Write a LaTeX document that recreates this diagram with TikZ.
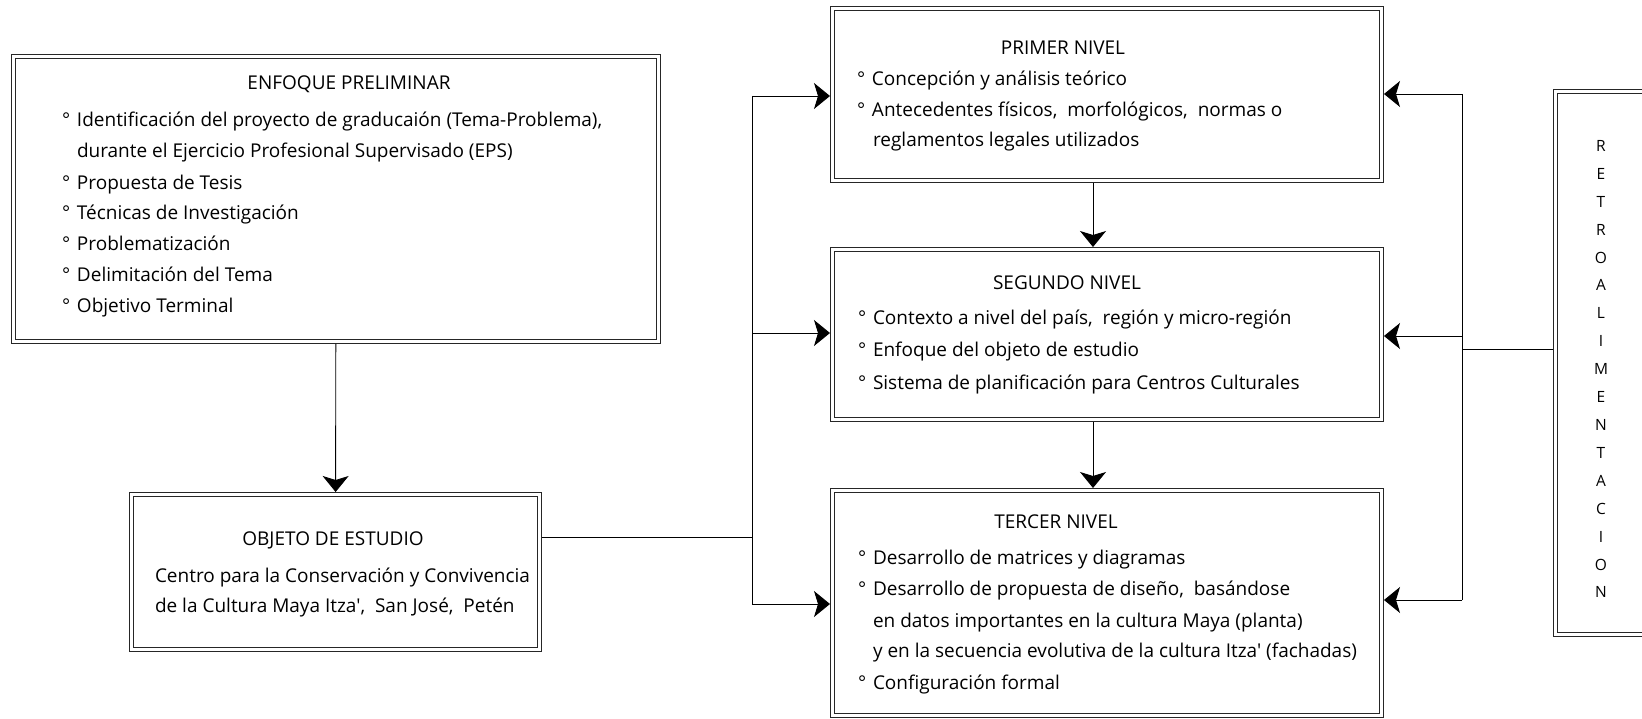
\documentclass[tikz,border=0pt]{standalone}
\usepackage{fontspec}
\setmainfont{Open Sans}[Ligatures=TeXOff]
\usetikzlibrary{arrows.meta}
\begin{document}
\begin{tikzpicture}[x=1pt,y=-1pt,
  box/.style={draw=black!85, line width=0.8pt, double=white, double distance=3pt, inner sep=0pt, outer sep=2.3pt},
  txt/.style={inner sep=0pt, outer sep=0pt, font=\fontsize{19}{22}\selectfont},
  ttl/.style={txt, anchor=base},
  li/.style={txt, anchor=base west},
  rl/.style={inner sep=0pt, anchor=base, font=\fontsize{15.5}{18}\selectfont},
  conn/.style={line width=0.9pt},
  arr/.style={conn, -{Stealth[length=16pt,width=26pt,inset=4pt]}}]
\path[clip] (0,0) rectangle (1642,719);
% boxes
\node[box, minimum width=645.4pt, minimum height=285.4pt] (enf) at (336,199) {};
\node[box, minimum width=408.4pt, minimum height=155.4pt] (obj) at (335.5,572) {};
\node[box, minimum width=549.4pt, minimum height=172.4pt] (pri) at (1107,94.5) {};
\node[box, minimum width=549.4pt, minimum height=170.4pt] (seg) at (1107,334.5) {};
\node[box, minimum width=549.4pt, minimum height=225.4pt] (ter) at (1107,603) {};
\node[box, minimum width=107.4pt, minimum height=543.4pt] (ret) at (1609,363) {};
\newcommand{\bul}{\makebox[15pt][l]{°}}
% Enfoque
\node[ttl] (enft) at (349,90) {ENFOQUE PRELIMINAR};
\node[li] (e1) at (62,127) {\bul Identificación del proyecto de graducaión (Tema-Problema),};
\node[li] (e2) at (77,158) {durante el Ejercicio Profesional Supervisado (EPS)};
\node[li] (e3) at (62,190) {\bul Propuesta de Tesis};
\node[li] (e4) at (62,220) {\bul Técnicas de Investigación};
\node[li] (e5) at (62,251) {\bul Problematización};
\node[li] (e6) at (62,282) {\bul Delimitación del Tema};
\node[li] (e7) at (62,313) {\bul Objetivo Terminal};
% Objeto
\node[ttl] (objt) at (333,545) {OBJETO DE ESTUDIO};
\node[li] (o1) at (155,582) {Centro para la Conservación y Convivencia};
\node[li] (o2) at (155,612) {de la Cultura Maya Itza',\ \ San José,\ \ Petén};
% Primer
\node[ttl] (prit) at (1063,55) {PRIMER NIVEL};
\node[li] (p1) at (857,86) {\bul Concepción y análisis teórico};
\node[li] (p2) at (857,117) {\bul Antecedentes físicos,\ \ morfológicos,\ \ normas o};
\node[li] (p3) at (873,147) {reglamentos legales utilizados};
% Segundo
\node[ttl] (segt) at (1067,290) {SEGUNDO NIVEL};
\node[li] (s1) at (858,325) {\bul Contexto a nivel del país,\ \ región y micro-región};
\node[li] (s2) at (858,357) {\bul Enfoque del objeto de estudio};
\node[li] (s3) at (858,390) {\bul Sistema de planificación para Centros Culturales};
% Tercer
\node[ttl] (tert) at (1056,528) {TERCER NIVEL};
\node[li] (t1) at (858,564) {\bul Desarrollo de matrices y diagramas};
\node[li] (t2) at (858,595) {\bul Desarrollo de propuesta de diseño,\ \ basándose};
\node[li] (t3) at (873,627) {en datos importantes en la cultura Maya (planta)};
\node[li] (t4) at (873,657) {y en la secuencia evolutiva de la cultura Itza' (fachadas)};
\node[li] (t5) at (858,689) {\bul Configuración formal};
% Retroalimentacion
\foreach \l [count=\i from 0] in {R,E,T,R,O,A,L,I,M,E,N,T,A,C,I,O,N}
  \node[rl] (r\i) at (1601,151.5+27.9*\i) {\l};
% connectors
\coordinate (lt) at (752,96);
\coordinate (lm) at (752,537);
\coordinate (ls) at (752,333);
\coordinate (lb) at (752,604);
\coordinate (c1) at (1093,0);
\coordinate (rt) at (1462,94);
\coordinate (rs) at (1462,336);
\coordinate (rm) at (1462,349);
\coordinate (rb) at (1462,600);
\draw[arr] (enf) -- (obj);
\draw[conn] (obj.east |- lm) -- (lm);
\draw[conn] (lt) -- (lb);
\draw[arr] (lt) -- (lt -| pri.west);
\draw[arr] (ls) -- (ls -| seg.west);
\draw[arr] (lb) -- (lb -| ter.west);
\draw[arr] (pri.south -| c1) -- (seg.north -| c1);
\draw[arr] (seg.south -| c1) -- (ter.north -| c1);
\draw[conn] (rt) -- (rb);
\draw[conn] (ret.west |- rm) -- (rm);
\draw[arr] (rt) -- (rt -| pri.east);
\draw[arr] (rs) -- (rs -| seg.east);
\draw[arr] (rb) -- (rb -| ter.east);
\end{tikzpicture}
\end{document}
